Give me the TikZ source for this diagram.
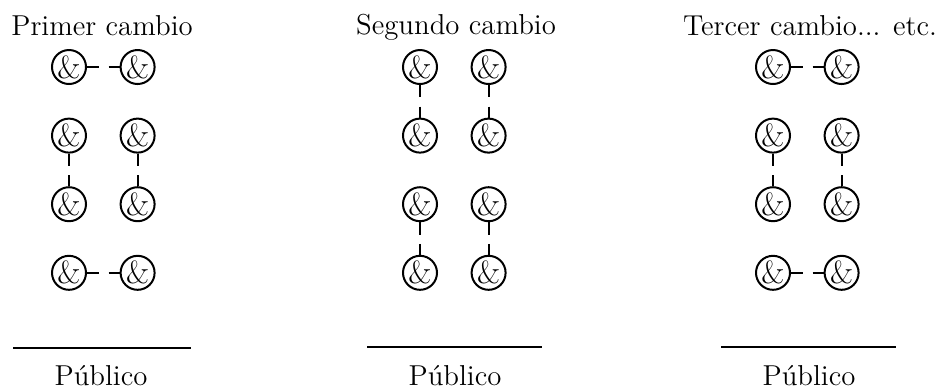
\documentclass[tikz,border=0pt]{standalone}
\usepackage{fontspec}
\usetikzlibrary{positioning}

\begin{document}
\begin{tikzpicture}[
    x=0.5pt, y=-0.5pt,
    line width=1pt,
    node distance={34.3pt},
    actor/.style={draw, circle, minimum size=17pt, inner sep=0pt,
                  font=\fontsize{16}{16}\selectfont},
    link/.style={dash pattern=on 6.2pt off 4.6pt on 20pt off 0pt},
    title/.style={anchor=base, font=\fontsize{14.4}{17}\selectfont}
]
\useasboundingbox (0,0) rectangle (938,388);

% primer cambio
\node[actor] (a1) at (69,67) {\&};
\node[actor] (a2) [right of=a1] {\&};
\node[actor] (a3) [below of=a1] {\&};
\node[actor] (a4) [right of=a3] {\&};
\node[actor] (a5) [below of=a3] {\&};
\node[actor] (a6) [right of=a5] {\&};
\node[actor] (a7) [below of=a5] {\&};
\node[actor] (a8) [right of=a7] {\&};

% segundo cambio
\node[actor] (b1) at (420,67) {\&};
\node[actor] (b2) [right of=b1] {\&};
\node[actor] (b3) [below of=b1] {\&};
\node[actor] (b4) [right of=b3] {\&};
\node[actor] (b5) [below of=b3] {\&};
\node[actor] (b6) [right of=b5] {\&};
\node[actor] (b7) [below of=b5] {\&};
\node[actor] (b8) [right of=b7] {\&};

% tercer cambio
\node[actor] (c1) at (773,67) {\&};
\node[actor] (c2) [right of=c1] {\&};
\node[actor] (c3) [below of=c1] {\&};
\node[actor] (c4) [right of=c3] {\&};
\node[actor] (c5) [below of=c3] {\&};
\node[actor] (c6) [right of=c5] {\&};
\node[actor] (c7) [below of=c5] {\&};
\node[actor] (c8) [right of=c7] {\&};

\path[link]
    (a1) edge (a2)
    (a3) edge (a5)
    (a4) edge (a6)
    (a7) edge (a8)
    (b1) edge (b3)
    (b2) edge (b4)
    (b5) edge (b7)
    (b6) edge (b8)
    (c1) edge (c2)
    (c3) edge (c5)
    (c4) edge (c6)
    (c7) edge (c8)
    ;

\node[title] (t1) at (102,35) {Primer cambio};
\node[title] (t2) at (456,34) {Segundo cambio};
\node[title] (t3) at (810,35) {Tercer cambio... etc.};

% publico
\coordinate (l1) at (13,348);  \coordinate (r1) at (191,348);
\coordinate (l2) at (367,347); \coordinate (r2) at (542,347);
\coordinate (l3) at (721,347); \coordinate (r3) at (896,347);
\draw (l1) -- (r1);
\draw (l2) -- (r2);
\draw (l3) -- (r3);

\node[title] (p1) at (101,385) {Público};
\node[title] (p2) at (455,385) {Público};
\node[title] (p3) at (809,385) {Público};

\end{tikzpicture}
\end{document}
